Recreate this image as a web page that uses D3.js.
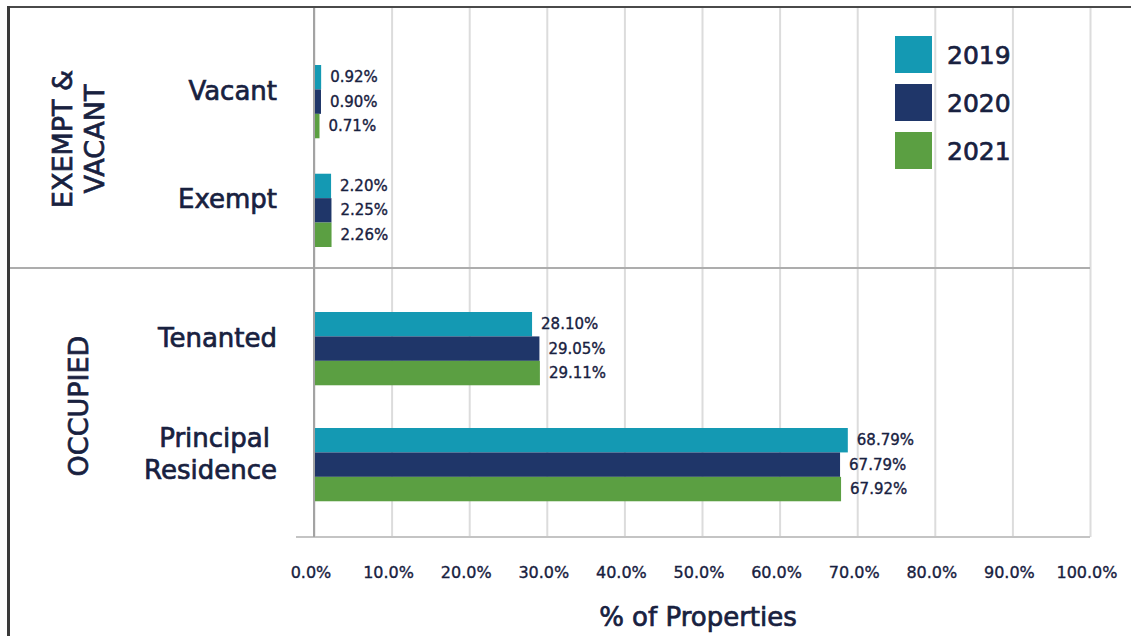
<!DOCTYPE html>
<html>
<head>
<meta charset="utf-8">
<script src="https://cdn.jsdelivr.net/npm/d3@7"></script>
<style>
    body { margin: 0; background: #fff; }
    text { font-family: "DejaVu Sans", sans-serif; fill: #18213f; stroke: #18213f; stroke-width: 0.35px; }
    .big { stroke-width: 0.7px; }
</style>
</head>
<body>
<svg id="svg"></svg>
<script>
// data (percent of properties)
const categories = ["Vacant", "Exempt", "Tenanted", "Principal Residence"];
const categoryGroup = ["EXEMPT & VACANT", "EXEMPT & VACANT", "OCCUPIED", "OCCUPIED"];
const years = ["2019", "2020", "2021"];
const values2019 = [0.92, 2.20, 28.10, 68.79];
const values2020 = [0.90, 2.25, 29.05, 67.79];
const values2021 = [0.71, 2.26, 29.11, 67.92];
const xTicks = [0, 0.1, 0.2, 0.3, 0.4, 0.5, 0.6, 0.7, 0.8, 0.9, 1.0];

const colors = ["#1499b3", "#1f3669", "#5b9f42"];
const seriesValues = [values2019, values2020, values2021];

const width = 1131;
const height = 636;

let svg = d3.select("#svg")
    .attr("width", width)
    .attr("height", height);

let xScale = d3.scaleLinear().domain([0, 1]).range([314, 1090]);

// each panel gets its own band scale
let topCats = categories.filter((c, i) => categoryGroup[i] == "EXEMPT & VACANT");
let bottomCats = categories.filter((c, i) => categoryGroup[i] == "OCCUPIED");

let yTop = d3.scaleBand().domain(topCats).range([65, 247]).paddingInner(0.326).paddingOuter(0);
let yBottom = d3.scaleBand().domain(bottomCats).range([312, 502]).paddingInner(0.362).paddingOuter(0);

function yBand(cat) {
    return topCats.includes(cat) ? yTop : yBottom;
}

let yearScale = d3.scaleBand().domain(years).range([0, yTop.bandwidth()]);

function drawGrid() {
    // vertical gridlines
    svg.append("g")
        .attr("transform", "translate(0,537)")
        .call(d3.axisBottom(xScale).tickValues(xTicks).tickSize(-530).tickFormat(""))
        .call(g => g.select(".domain").remove())
        .call(g => g.selectAll("line").attr("stroke", "#dcdcdc").attr("stroke-width", 2));

    // tick labels
    svg.append("g")
        .selectAll("text")
        .data(xTicks)
        .enter()
        .append("text")
            .attr("x", d => xScale(d) - 3)
            .attr("y", 578)
            .attr("text-anchor", "middle")
            .style("font-size", "16px")
            .text(d3.format(".1%"));

    // bottom axis line
    svg.append("line")
        .attr("x1", 296).attr("x2", xScale(1))
        .attr("y1", 537).attr("y2", 537)
        .attr("stroke", "#c4c4c4").attr("stroke-width", 2);

    // panel divider
    svg.append("line")
        .attr("x1", 8).attr("x2", xScale(1))
        .attr("y1", 268).attr("y2", 268)
        .attr("stroke", "#adadad").attr("stroke-width", 2);

    // zero axis
    svg.append("line")
        .attr("x1", xScale(0)).attr("x2", xScale(0))
        .attr("y1", 7).attr("y2", 537)
        .attr("stroke", "#a3a3a3").attr("stroke-width", 2);

    // frame (top and left)
    svg.append("line")
        .attr("x1", 8).attr("x2", width)
        .attr("y1", 7).attr("y2", 7)
        .attr("stroke", "#4a4a4a").attr("stroke-width", 2);
    svg.append("line")
        .attr("x1", 8.5).attr("x2", 8.5)
        .attr("y1", 6).attr("y2", height)
        .attr("stroke", "#3a3a3a").attr("stroke-width", 3);
}

function drawBars() {
    years.forEach((year, yi) => {
        let vals = seriesValues[yi];
        svg.append("g")
            .selectAll("rect")
            .data(categories)
            .enter()
            .append("rect")
                .attr("x", xScale(0) + 1)
                .attr("y", (c) => yBand(c)(c) + yearScale(year))
                .attr("width", (c, i) => xScale(vals[i] / 100) - xScale(0) - 1)
                .attr("height", yearScale.bandwidth())
                .attr("fill", colors[yi]);

        svg.append("g")
            .selectAll("text")
            .data(categories)
            .enter()
            .append("text")
                .attr("x", (c, i) => xScale(vals[i] / 100) + 9)
                .attr("y", (c) => yBand(c)(c) + yearScale(year) + yearScale.bandwidth() / 2)
                .attr("dominant-baseline", "central")
                .style("font-size", "15px")
                .text((c, i) => vals[i].toFixed(2) + "%");
    });
}

function drawLabels() {
    // category labels, sitting a bit above the band centre
    categories.forEach(c => {
        let cy = yBand(c)(c) + yBand(c).bandwidth() / 2;
        let words = c == "Principal Residence" ? ["Principal", "Residence"] : [c];
        let t = svg.append("text")
            .attr("class", "big")
            .attr("text-anchor", "end")
            .style("font-size", "26px");
        words.forEach((w, wi) => {
            t.append("tspan")
                .attr("x", w == "Principal" ? 270 : 277)
                .attr("y", cy - 11 + (wi - (words.length - 1) / 2) * 32)
                .attr("dominant-baseline", "central")
                .text(w);
        });
    });

    // rotated group labels
    let groupLabels = [
        { lines: ["EXEMPT &", "VACANT"], cy: 139 },
        { lines: ["OCCUPIED"], cy: 406 }
    ];
    groupLabels.forEach(g => {
        let t = svg.append("text")
            .attr("class", "big")
            .attr("transform", `translate(78,${g.cy}) rotate(-90)`)
            .attr("text-anchor", "middle")
            .style("font-size", "27px");
        g.lines.forEach((l, li) => {
            t.append("tspan")
                .attr("x", 0)
                .attr("y", (li - (g.lines.length - 1) / 2) * 32)
                .attr("dominant-baseline", "central")
                .text(l);
        });
    });

    // axis title
    svg.append("text")
        .attr("class", "big")
        .attr("x", 698)
        .attr("y", 626)
        .attr("text-anchor", "middle")
        .style("font-size", "26px")
        .text("% of Properties");
}

function drawLegend() {
    let legend = svg.append("g").attr("transform", "translate(895,36)");
    legend.selectAll("rect")
        .data(years)
        .enter()
        .append("rect")
            .attr("x", 0)
            .attr("y", (d, i) => i * 48)
            .attr("width", 37)
            .attr("height", 37)
            .attr("fill", (d, i) => colors[i]);
    legend.selectAll("text")
        .data(years)
        .enter()
        .append("text")
            .attr("class", "big")
            .attr("x", 52)
            .attr("y", (d, i) => i * 48 + 19)
            .attr("dominant-baseline", "central")
            .style("font-size", "25px")
            .text(d => d);
}

drawGrid();
drawBars();
drawLabels();
drawLegend();
</script>
</body>
</html>
